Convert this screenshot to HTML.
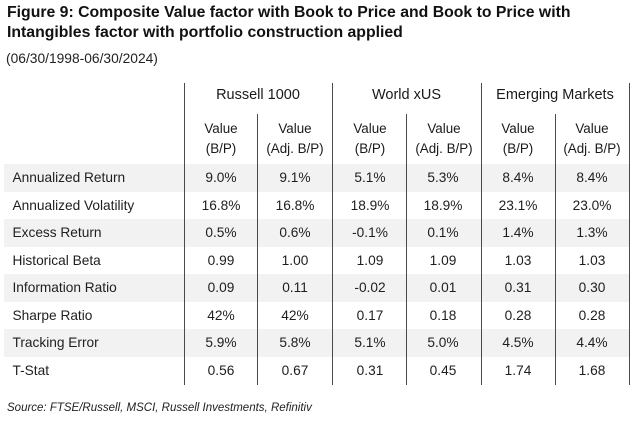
<!DOCTYPE html>
<html>
<head>
<meta charset="utf-8">
<style>
html,body{margin:0;padding:0;background:#fff;}
body{width:638px;height:423px;position:relative;overflow:hidden;font-family:"Liberation Sans",Arial,sans-serif;color:#1e1e1e;}
.t{position:absolute;left:7px;font-weight:bold;font-size:15.8px;white-space:nowrap;color:#111;}
.sub{position:absolute;left:6px;top:51px;font-size:13.8px;white-space:nowrap;color:#222;}
.band{position:absolute;left:4px;width:626px;height:27.5px;background:#f2f2f2;}
.vl{position:absolute;width:1px;background:#4a4a4a;}
.lab{position:absolute;left:12.5px;font-size:13.7px;white-space:nowrap;line-height:27.5px;height:27.5px;}
.c{position:absolute;width:74px;text-align:center;font-size:13.7px;line-height:27.5px;height:27.5px;white-space:nowrap;}
.h{position:absolute;text-align:center;font-size:14.5px;white-space:nowrap;color:#1a1a1a;}
.sh{position:absolute;width:74px;text-align:center;font-size:13.4px;line-height:20px;white-space:nowrap;color:#1a1a1a;}
.src{position:absolute;left:7px;top:402px;font-size:11.5px;font-style:italic;white-space:nowrap;color:#222;}
</style>
</head>
<body>
<div class="t" style="top:4px;">Figure 9: Composite Value factor with Book to Price and Book to Price with</div>
<div class="t" style="top:24px;">Intangibles factor with portfolio construction applied</div>
<div class="sub">(06/30/1998-06/30/2024)</div>

<div class="band" style="top:164px;"></div>
<div class="band" style="top:219px;"></div>
<div class="band" style="top:274px;"></div>
<div class="band" style="top:329px;"></div>

<div class="vl" style="left:184px;top:83px;height:302px;"></div>
<div class="vl" style="left:257px;top:114px;height:271px;"></div>
<div class="vl" style="left:332px;top:83px;height:302px;"></div>
<div class="vl" style="left:406px;top:114px;height:271px;"></div>
<div class="vl" style="left:481px;top:83px;height:302px;"></div>
<div class="vl" style="left:555px;top:114px;height:271px;"></div>
<div class="vl" style="left:629px;top:83px;height:302px;"></div>

<div class="h" style="left:184px;width:148px;top:87px;">Russell 1000</div>
<div class="h" style="left:332px;width:149px;top:87px;">World xUS</div>
<div class="h" style="left:481px;width:148px;top:87px;">Emerging Markets</div>

<div class="sh" style="left:184px;top:119px;">Value<br>(B/P)</div>
<div class="sh" style="left:258px;top:119px;">Value<br>(Adj. B/P)</div>
<div class="sh" style="left:333px;top:119px;">Value<br>(B/P)</div>
<div class="sh" style="left:407px;top:119px;">Value<br>(Adj. B/P)</div>
<div class="sh" style="left:481px;top:119px;">Value<br>(B/P)</div>
<div class="sh" style="left:555px;top:119px;">Value<br>(Adj. B/P)</div>

<div class="lab" style="top:164px;">Annualized Return</div>
<div class="c" style="left:184px;top:164px;">9.0%</div>
<div class="c" style="left:258px;top:164px;">9.1%</div>
<div class="c" style="left:333px;top:164px;">5.1%</div>
<div class="c" style="left:406px;top:164px;">5.3%</div>
<div class="c" style="left:481px;top:164px;">8.4%</div>
<div class="c" style="left:555px;top:164px;">8.4%</div>

<div class="lab" style="top:191.5px;">Annualized Volatility</div>
<div class="c" style="left:184px;top:191.5px;">16.8%</div>
<div class="c" style="left:258px;top:191.5px;">16.8%</div>
<div class="c" style="left:333px;top:191.5px;">18.9%</div>
<div class="c" style="left:406px;top:191.5px;">18.9%</div>
<div class="c" style="left:481px;top:191.5px;">23.1%</div>
<div class="c" style="left:555px;top:191.5px;">23.0%</div>

<div class="lab" style="top:219px;">Excess Return</div>
<div class="c" style="left:184px;top:219px;">0.5%</div>
<div class="c" style="left:258px;top:219px;">0.6%</div>
<div class="c" style="left:333px;top:219px;">-0.1%</div>
<div class="c" style="left:406px;top:219px;">0.1%</div>
<div class="c" style="left:481px;top:219px;">1.4%</div>
<div class="c" style="left:555px;top:219px;">1.3%</div>

<div class="lab" style="top:246.5px;">Historical Beta</div>
<div class="c" style="left:184px;top:246.5px;">0.99</div>
<div class="c" style="left:258px;top:246.5px;">1.00</div>
<div class="c" style="left:333px;top:246.5px;">1.09</div>
<div class="c" style="left:406px;top:246.5px;">1.09</div>
<div class="c" style="left:481px;top:246.5px;">1.03</div>
<div class="c" style="left:555px;top:246.5px;">1.03</div>

<div class="lab" style="top:274px;">Information Ratio</div>
<div class="c" style="left:184px;top:274px;">0.09</div>
<div class="c" style="left:258px;top:274px;">0.11</div>
<div class="c" style="left:333px;top:274px;">-0.02</div>
<div class="c" style="left:406px;top:274px;">0.01</div>
<div class="c" style="left:481px;top:274px;">0.31</div>
<div class="c" style="left:555px;top:274px;">0.30</div>

<div class="lab" style="top:301.5px;">Sharpe Ratio</div>
<div class="c" style="left:184px;top:301.5px;">42%</div>
<div class="c" style="left:258px;top:301.5px;">42%</div>
<div class="c" style="left:333px;top:301.5px;">0.17</div>
<div class="c" style="left:406px;top:301.5px;">0.18</div>
<div class="c" style="left:481px;top:301.5px;">0.28</div>
<div class="c" style="left:555px;top:301.5px;">0.28</div>

<div class="lab" style="top:329px;">Tracking Error</div>
<div class="c" style="left:184px;top:329px;">5.9%</div>
<div class="c" style="left:258px;top:329px;">5.8%</div>
<div class="c" style="left:333px;top:329px;">5.1%</div>
<div class="c" style="left:406px;top:329px;">5.0%</div>
<div class="c" style="left:481px;top:329px;">4.5%</div>
<div class="c" style="left:555px;top:329px;">4.4%</div>

<div class="lab" style="top:356.5px;">T-Stat</div>
<div class="c" style="left:184px;top:356.5px;">0.56</div>
<div class="c" style="left:258px;top:356.5px;">0.67</div>
<div class="c" style="left:333px;top:356.5px;">0.31</div>
<div class="c" style="left:406px;top:356.5px;">0.45</div>
<div class="c" style="left:481px;top:356.5px;">1.74</div>
<div class="c" style="left:555px;top:356.5px;">1.68</div>

<div class="src">Source: FTSE/Russell, MSCI, Russell Investments, Refinitiv</div>
</body>
</html>
